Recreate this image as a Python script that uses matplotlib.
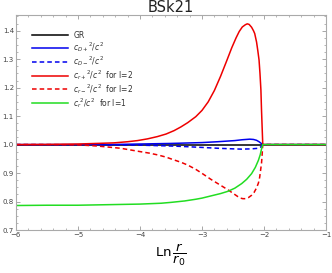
import numpy as np
import matplotlib
matplotlib.use('Agg')
import matplotlib.pyplot as plt
from matplotlib.ticker import MultipleLocator

# values
x_gr = [-6.0, -1.0]
y_gr = [1.0, 1.0]

x_dp = [-6.0, -4.5, -4.0, -3.5, -3.0, -2.75, -2.47, -2.35, -2.23, -2.17, -2.12, -2.08,
        -2.05, -2.02, -1.0]
y_dp = [1.0, 1.0, 1.002, 1.004, 1.007, 1.01, 1.014, 1.017, 1.019, 1.018, 1.015, 1.01,
        1.005, 1.0, 1.0]

x_dm = [-6.0, -4.5, -4.0, -3.5, -3.28, -3.0, -2.74, -2.5, -2.36, -2.2, -2.09, -2.05,
        -2.02, -1.0]
y_dm = [1.0, 0.999, 0.998, 0.995, 0.993, 0.99, 0.987, 0.985, 0.984, 0.985, 0.987,
        0.992, 1.0, 1.0]

x_rp = [-6.0, -5.5, -5.0, -4.7, -4.42, -4.2, -4.04, -3.88, -3.72, -3.58, -3.45, -3.34,
        -3.23, -3.1, -3.0, -2.9, -2.8, -2.7, -2.6, -2.52, -2.45, -2.4, -2.35, -2.3,
        -2.27, -2.24, -2.2, -2.17, -2.15, -2.12, -2.1, -2.08, -2.065, -2.05, -2.04,
        -2.03, -2.02, -1.0]
y_rp = [1.0, 1.0005, 1.002, 1.004, 1.006, 1.01, 1.014, 1.02, 1.028, 1.037, 1.049, 1.062,
        1.077, 1.098, 1.12, 1.15, 1.19, 1.24, 1.295, 1.34, 1.375, 1.397, 1.413, 1.421,
        1.424, 1.422, 1.412, 1.4, 1.39, 1.36, 1.33, 1.297, 1.25, 1.192, 1.12,
        1.06, 1.0, 1.0]

x_rm = [-6.0, -5.5, -5.0, -4.69, -4.5, -4.31, -4.15, -3.99, -3.85, -3.72, -3.58, -3.45,
        -3.34, -3.23, -3.1, -3.0, -2.85, -2.7, -2.58, -2.5, -2.42, -2.38, -2.34, -2.3,
        -2.25, -2.2, -2.16, -2.12, -2.09, -2.07, -2.055, -2.04, -2.03, -2.02, -1.0]
y_rm = [1.0, 1.0, 0.999, 0.995, 0.991, 0.987, 0.981, 0.975, 0.97, 0.964, 0.956, 0.946,
        0.938, 0.928, 0.913, 0.899, 0.877, 0.857, 0.841, 0.829, 0.817, 0.812, 0.81, 0.81,
        0.814, 0.822, 0.832, 0.848, 0.865, 0.885, 0.91, 0.935, 0.965, 1.0, 1.0]

x_g = [-6.0, -5.5, -5.0, -4.5, -4.0, -3.66, -3.5, -3.28, -3.1, -3.0, -2.85, -2.7, -2.58,
       -2.47, -2.36, -2.28, -2.2, -2.14, -2.09, -2.06, -2.04, -2.02, -1.0]
y_g = [0.786, 0.787, 0.787, 0.789, 0.791, 0.794, 0.797, 0.802, 0.808, 0.812, 0.82, 0.828,
       0.836, 0.847, 0.863, 0.878, 0.898, 0.92, 0.945, 0.965, 0.985, 1.0, 1.0]

fig = plt.figure(figsize=(3.32, 2.73), dpi=100)
ax = fig.add_axes([0.048, 0.1575, 0.934, 0.7875])

lw = 1.1
ax.plot(x_gr, y_gr, color='black', lw=lw, label='GR')
ax.plot(x_dp, y_dp, color='#0000ee', lw=lw, label=r'$c_{D+}{}^2/c^2$')
ax.plot(x_dm, y_dm, color='#0000ee', lw=lw, ls=(0, (3, 2)), label=r'$c_{D-}{}^2/c^2$')
ax.plot(x_rp, y_rp, color='#ee0000', lw=lw, label=r'$c_{r+}{}^2/c^2$  for l=2')
ax.plot(x_rm, y_rm, color='#ee0000', lw=lw, ls=(0, (3, 2)), label=r'$c_{r-}{}^2/c^2$  for l=2')
ax.plot(x_g, y_g, color='#22dd22', lw=lw, label=r'$c_r{}^2/c^2$  for l=1')

ax.set_xlim(-6, -1)
ax.set_ylim(0.7, 1.455)
ax.xaxis.set_major_locator(MultipleLocator(1))
ax.xaxis.set_minor_locator(MultipleLocator(0.2))
ax.yaxis.set_major_locator(MultipleLocator(0.1))
ax.yaxis.set_minor_locator(MultipleLocator(0.025))
ax.tick_params(which='both', direction='in', top=True, right=True, color='#999999',
               labelsize=5, labelcolor='#444444', pad=1.5)
ax.tick_params(which='major', length=3, width=0.6)
ax.tick_params(which='minor', length=1.5, width=0.5)
for s in ax.spines.values():
    s.set_color('#aaaaaa')
    s.set_linewidth(0.8)
ax.set_yticks([0.7, 0.8, 0.9, 1.0, 1.1, 1.2, 1.3, 1.4])
ax.set_yticklabels(['0.7', '0.8', '0.9', '1.0', '1.1', '1.2', '1.3', '1.4'])

ax.set_title('BSk21', fontsize=10.5, color='#222222', pad=2)
ax.set_xlabel(r'$\mathrm{Ln}\,\dfrac{r}{r_0}$', fontsize=9.5, labelpad=3)

leg = ax.legend(loc='upper left', frameon=False, fontsize=5.5, handlelength=4.7,
                labelspacing=0.0, borderaxespad=1.7, handletextpad=0.7)
for t in leg.get_texts():
    t.set_color('#333333')

fig.savefig('out.png', dpi=100)
